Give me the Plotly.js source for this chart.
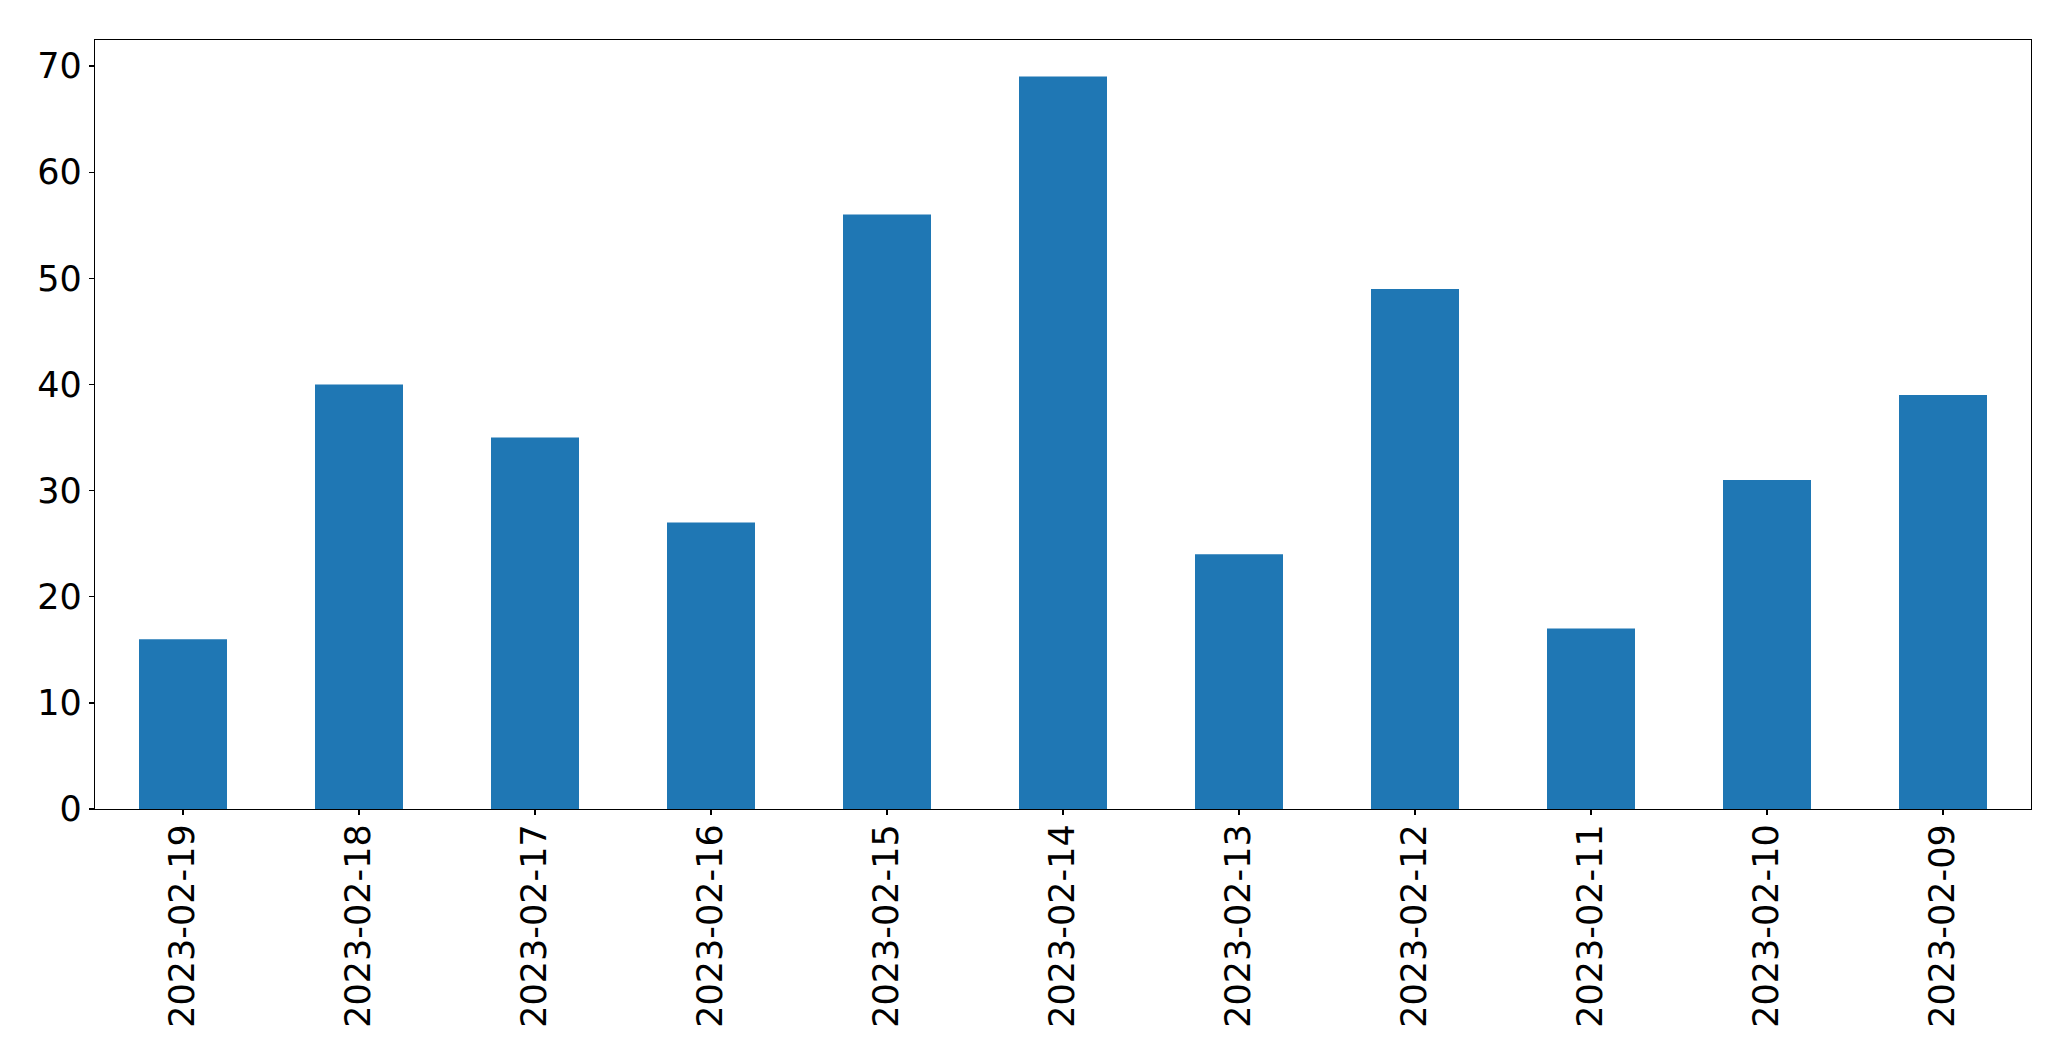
<!DOCTYPE html>
<html>
<head>
<meta charset="utf-8">
<script src="https://cdn.plot.ly/plotly-3.0.1.min.js"></script>
<style>html,body{margin:0;padding:0;background:#fff;}#chart{width:2071px;height:1061px;}</style>
</head>
<body>
<div id="chart"></div>
<script>
const dates = ["2023-02-19","2023-02-18","2023-02-17","2023-02-16","2023-02-15","2023-02-14","2023-02-13","2023-02-12","2023-02-11","2023-02-10","2023-02-09"];
const counts = [16, 40, 35, 27, 56, 69, 24, 49, 17, 31, 39];
const yTicks = [0, 10, 20, 30, 40, 50, 60, 70];

const trace = {
  type: 'bar',
  x: dates,
  y: counts,
  width: 0.5,
  marker: {color: '#1f77b4', line: {width: 0}},
  hoverinfo: 'x+y'
};

const layout = {
  width: 2071,
  height: 1061,
  margin: {l: 94.5, r: 39.5, t: 39.5, b: 252, pad: 0},
  paper_bgcolor: '#ffffff',
  plot_bgcolor: '#ffffff',
  font: {family: 'DejaVu Sans', size: 35, color: '#000000'},
  showlegend: false,
  bargap: 0.5,
  xaxis: {
    type: 'category',
    range: [-0.5, 10.5],
    tickangle: -90,
    showline: true, mirror: true, linecolor: '#000000', linewidth: 1.3,
    ticks: 'outside', ticklen: 5, tickwidth: 1.3, tickcolor: '#000000',
    ticklabelstandoff: -5,
    showgrid: false, zeroline: false,
    tickfont: {family: 'DejaVu Sans', size: 35, color: '#000000'}
  },
  yaxis: {
    range: [0, 72.45],
    tickmode: 'array', tickvals: yTicks, ticktext: yTicks.map(String),
    showline: true, mirror: true, linecolor: '#000000', linewidth: 1.3,
    ticks: 'outside', ticklen: 5, tickwidth: 1.3, tickcolor: '#000000',
    showgrid: false, zeroline: false,
    tickfont: {family: 'DejaVu Sans', size: 35, color: '#000000'}
  }
};

Plotly.newPlot('chart', [trace], layout, {displayModeBar: false, staticPlot: true});
</script>
</body>
</html>
